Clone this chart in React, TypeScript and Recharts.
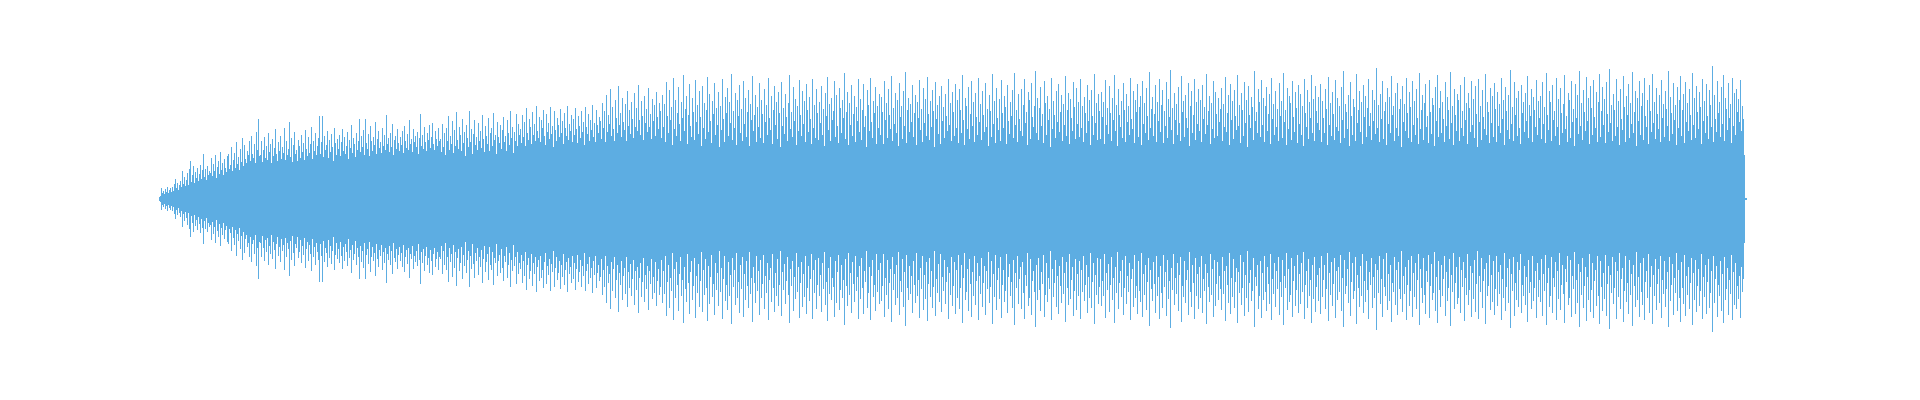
import { BarChart, Bar, XAxis, YAxis } from "recharts";

// peak amplitude of each 1px column (symmetric around zero)
const ampIntro = [
  2, 3, 11, 6, 8, 5, 10, 7, 12, 6, 9, 11, 7, 12, 8, 15, 20, 11, 16, 9,
  14, 18, 12, 28, 15, 22, 13, 19, 26, 14, 30, 38, 17, 24, 33, 16, 27, 21, 31, 18,
  25, 34, 20, 29, 45, 22, 30, 19, 33, 24, 28,
];

const ampRise = [
  26, 41, 23, 35, 28, 44, 21, 32, 38, 25, 47, 29, 36, 24, 40, 31, 27, 43, 45, 30,
  34, 52, 28, 39, 46, 31, 57, 35, 42, 29, 50, 37, 61, 33, 54, 40, 36, 48, 44, 58,
  38, 63, 45, 41, 55, 36, 67, 49, 80, 43,
];

const ampShelf = [
  44, 58, 37, 49, 62, 41, 53, 39, 66, 47, 55, 36, 60, 43, 51, 70, 45, 38, 57, 48,
  63, 40, 52, 46, 71, 39, 58, 44, 50, 77, 42, 61, 37, 54, 67, 45, 49, 38, 59, 53,
  41, 64, 47, 56, 39, 69, 50, 43, 62, 46, 55, 72, 40, 58, 48, 66, 44, 53, 61, 83,
  45, 57, 83, 42, 63, 49, 54, 68, 41, 59, 47, 65, 52, 38, 71, 56, 44, 60, 50, 64,
  43, 57, 70, 48, 62, 45, 53, 67, 40, 59, 51, 74, 46, 61, 55, 42, 66, 49, 58, 80,
  47, 63, 52, 69, 44, 80, 56, 50, 65, 43, 73, 58, 48, 62, 54, 77, 45, 60, 68, 51,
  57, 46, 71, 53, 64, 49, 84, 55, 61, 47, 66, 52, 75, 44, 59, 63, 50, 70, 56, 48,
  62, 54, 68, 46, 73, 58, 51, 65, 49, 79, 55, 60, 47, 70, 57, 63, 52, 67, 45, 61,
  85, 53, 64, 50, 72, 57, 48, 66, 59, 74, 51, 62, 76, 55, 49, 68, 60, 53, 71, 58,
];

const ampClimbA = [
  60, 47, 75, 52, 66, 44, 71, 58, 83, 49, 63, 55, 78, 46, 69, 53, 87, 59, 50, 72,
  64, 48, 80, 56, 67, 43, 74, 61, 52, 88, 57, 70, 45, 65, 79, 54, 62, 49, 76, 58,
  68, 51, 84, 60, 47, 73, 63, 55, 81, 48, 66, 71, 53, 86, 59, 64, 45, 77, 62, 56,
  74, 50, 69, 82, 57, 63, 48, 79, 66, 54, 88, 61, 72, 46, 67, 58, 85, 53, 75, 64,
];

const ampClimbB = [
  70, 56, 84, 62, 77, 53, 91, 66, 59, 80, 72, 55, 87, 64, 75, 58, 93, 68, 61, 82,
  57, 79, 71, 89, 63, 54, 85, 67, 76, 60, 92, 65, 73, 52, 88, 69, 58, 81, 74, 62,
  90, 66, 78, 55, 86, 71, 63, 93, 59, 75, 68, 84, 57, 80, 64, 91, 70, 56, 83, 73,
  61, 88, 67, 77, 54, 92, 72, 65, 85, 58, 79, 69, 94, 62, 76, 57, 89, 74, 66, 82,
];

const ampClimbC = [
  78, 60, 96, 71, 88, 57, 104, 67, 84, 75, 110, 63, 92, 70, 58, 99, 81, 66, 113, 74,
  86, 62, 101, 77, 69, 95, 58, 108, 73, 89, 65, 97, 80, 61, 106, 72, 91, 68, 114, 79,
  64, 98, 83, 59, 103, 76, 90, 67, 111, 72, 85, 60, 100, 78, 94, 63, 107, 82, 70, 96,
];

const ampBody1 = [
  88, 61, 104, 72, 95, 57, 117, 83, 66, 109, 79, 92, 54, 121, 70, 99, 63, 86, 112, 75,
  58, 97, 81, 124, 68, 90, 103, 55, 84, 115, 73, 62, 101, 87, 59, 119, 77, 94, 65, 108,
  82, 53, 113, 71, 96, 60, 89, 122, 67, 105, 78, 56, 98, 85, 116, 64, 91, 74, 107, 52,
  93, 69, 120, 80, 57, 102, 86, 111, 63, 97, 76, 125, 59, 88, 71, 106, 54, 99, 83, 114,
  66, 90, 58, 118, 75, 101, 62, 87, 109, 53, 95, 79, 123, 68, 84, 104, 57, 92, 72, 116,
  61, 99, 85, 56, 110, 77, 94, 64, 121, 81, 69, 103, 55, 89, 113, 74, 97, 60, 107, 86,
  52, 117, 73, 91, 65, 105, 82, 58, 96, 124, 70, 87, 62, 112, 78, 100, 54, 93, 68, 119,
  84, 63, 108, 75, 98, 57, 115, 89, 67, 102, 80, 55, 120, 71, 94, 61, 110, 86, 59, 97,
  76, 113, 64, 90, 53, 106, 83, 122, 69, 95, 58, 101, 79, 88, 118, 62, 104, 73, 56, 111,
  91, 66, 99, 81, 126, 60, 87, 107, 54, 96, 74, 114, 63, 85, 103, 57, 92, 78, 120, 67,
  100, 59, 89, 115, 72, 83, 52, 109, 94, 68, 121, 77, 61, 98, 86, 112, 55, 93, 71, 105,
];

const ampBody2 = [
  64, 102, 87, 55, 118, 79, 96, 61, 110, 84, 70, 123, 58, 91, 75, 106, 66, 99, 53, 116,
  82, 93, 60, 108, 73, 127, 56, 89, 101, 67, 95, 77, 114, 62, 86, 104, 54, 97, 81, 119,
  69, 90, 57, 111, 76, 100, 63, 122, 85, 59, 98, 72, 109, 88, 52, 117, 80, 94, 65, 103,
  55, 113, 78, 92, 61, 105, 83, 68, 120, 74, 96, 58, 107, 87, 63, 115, 71, 99, 56, 110,
  89, 66, 124, 79, 54, 101, 93, 70, 112, 60, 85, 118, 73, 97, 57, 106, 82, 64, 121, 77,
  95, 59, 108, 84, 67, 116, 72, 90, 53, 104, 88, 62, 125, 75, 98, 56, 111, 81, 69, 100,
  58, 119, 86, 71, 103, 92, 55, 114, 78, 65, 97, 83, 109, 61, 126, 74, 89, 57, 105, 80,
  68, 110, 63, 94, 120, 76, 87, 54, 107, 99, 60, 116, 82, 72, 93, 128, 66, 101, 59, 91,
  112, 73, 85, 56, 118, 96, 64, 103, 79, 90, 52, 121, 70, 98, 84, 61, 108, 77, 115, 67,
  87, 104, 58, 95, 74, 123, 63, 89, 106, 55, 100, 81, 68, 117, 92, 60, 111, 75, 97, 62,
  120, 71, 93, 57, 102, 86, 66, 114, 78, 99, 54, 109, 83, 64, 125, 76, 96, 59, 105, 88,
];

const ampBody3 = [
  60, 107, 82, 97, 55, 119, 74, 91, 65, 113, 86, 58, 101, 79, 124, 68, 94, 53, 110, 84,
  72, 98, 61, 116, 89, 57, 105, 77, 93, 64, 121, 80, 70, 108, 56, 99, 87, 115, 62, 92,
  103, 54, 118, 75, 96, 66, 111, 83, 59, 127, 71, 90, 102, 63, 85, 114, 57, 97, 78, 120,
  67, 94, 109, 56, 88, 73, 117, 61, 100, 82, 129, 69, 91, 55, 106, 79, 95, 64, 112, 76,
  58, 123, 87, 98, 62, 104, 81, 71, 116, 53, 93, 108, 66, 84, 120, 59, 97, 75, 110, 68,
  99, 57, 114, 80, 92, 65, 125, 74, 88, 103, 55, 96, 70, 118, 61, 107, 85, 63, 101, 77,
  90, 111, 58, 95, 72, 122, 67, 86, 104, 54, 115, 79, 98, 60, 109, 83, 69, 124, 73, 94,
  56, 106, 89, 63, 117, 76, 99, 52, 113, 84, 71, 102, 92, 59, 128, 78, 87, 66, 110, 97,
  62, 119, 74, 101, 57, 93, 112, 68, 85, 105, 55, 121, 80, 95, 64, 108, 72, 90, 58, 116,
  83, 98, 61, 126, 77, 89, 54, 111, 70, 103, 96, 59, 118, 82, 67, 107, 91, 56, 114, 75,
  105, 64, 93, 53, 120, 86, 72, 109, 60, 97, 81, 124, 66, 100, 58, 113, 88, 76, 102, 69,
];

const ampBody4 = [
  115, 57, 98, 81, 66, 110, 90, 54, 122, 74, 96, 63, 107, 85, 59, 119, 72, 101, 68, 93,
  56, 112, 79, 128, 61, 95, 87, 70, 104, 53, 117, 83, 64, 100, 92, 58, 125, 76, 89, 108,
  67, 97, 55, 114, 82, 103, 62, 91, 120, 73, 86, 59, 109, 78, 99, 65, 131, 71, 94, 57,
  105, 80, 118, 60, 88, 97, 54, 111, 75, 102, 66, 123, 84, 93, 58, 106, 71, 116, 63, 90,
  100, 52, 113, 77, 95, 68, 121, 86, 61, 107, 92, 57, 118, 74, 98, 64, 110, 81, 55, 126,
  70, 89, 104, 59, 96, 115, 72, 83, 56, 119, 87, 65, 101, 94, 53, 112, 78, 124, 62, 91,
  108, 66, 97, 80, 57, 117, 73, 102, 89, 60, 127, 76, 93, 54, 110, 84, 68, 105, 99, 58,
  114, 71, 88, 63, 122, 79, 96, 55, 106, 91, 67, 118, 74, 100, 61, 113, 85, 52, 120, 77,
  93, 59, 109, 82, 70, 125, 64, 97, 87, 56, 111, 76, 103, 62, 116, 90, 57, 107, 73, 95,
  66, 121, 80, 99, 54, 112, 88, 69, 104, 60, 129, 75, 92, 58, 117, 84, 101, 63, 108, 71,
  55, 114, 86, 97, 67, 106, 78, 123, 61, 94, 83, 110, 57, 102, 89, 72, 119, 64, 98, 81,
];

const ampBody5 = [
  103, 60, 117, 75, 92, 56, 126, 84, 69, 108, 97, 58, 114, 79, 88, 63, 121, 72, 100, 54,
  111, 86, 66, 95, 124, 70, 83, 57, 106, 99, 61, 118, 77, 90, 53, 115, 81, 104, 65, 128,
  73, 96, 59, 109, 87, 68, 122, 78, 101, 55, 113, 91, 64, 119, 82, 71, 107, 57, 97, 125,
  62, 88, 112, 74, 100, 56, 117, 85, 67, 130, 76, 94, 58, 105, 89, 63, 120, 72, 98, 54,
  110, 80, 69, 123, 92, 57, 103, 84, 115, 61, 96, 75, 127, 66, 87, 108, 53, 101, 78, 118,
  64, 93, 106, 59, 121, 83, 72, 99, 55, 114, 88, 67, 125, 76, 97, 60, 111, 85, 70, 104,
  57, 119, 81, 95, 62, 108, 90, 73, 128, 58, 102, 86, 65, 116, 79, 94, 54, 112, 71, 99,
  123, 63, 89, 105, 56, 117, 77, 96, 68, 110, 84, 59, 126, 74, 101, 61, 113, 87, 70, 107,
  92, 55, 120, 78, 98, 66, 115, 83, 60, 109, 94, 72, 133, 57, 104, 80, 67, 118, 86, 97,
  62, 112, 75, 124, 58, 101, 90, 69, 116, 81, 95, 56, 121, 73, 106, 64, 110, 87, 100, 77,
  119, 68, 93, 80, 44,
];

const ampTail = [1, 1];

const COLOR = "#5dade2";

const amplitudes = [
  ...ampIntro,
  ...ampRise,
  ...ampShelf,
  ...ampClimbA,
  ...ampClimbB,
  ...ampClimbC,
  ...ampBody1,
  ...ampBody2,
  ...ampBody3,
  ...ampBody4,
  ...ampBody5,
  ...ampTail,
];

// each column is a range bar from -a to +a
const chartData = amplitudes.map((a, i) => ({ i, range: [-a, a] }));

const LEFT = 159;

const App = () => {
  return (
    <div
      style={{
        position: "absolute",
        left: 0,
        top: 0,
        background: "#fff",
        shapeRendering: "crispEdges",
      }}
    >
      <BarChart
        width={1920}
        height={400}
        data={chartData}
        margin={{
          top: 49,
          bottom: 51,
          left: LEFT,
          right: 1920 - LEFT - chartData.length,
        }}
        barCategoryGap={0}
        barGap={0}
      >
        <XAxis dataKey="i" hide />
        <YAxis type="number" domain={[-150, 150]} hide />
        <Bar
          dataKey="range"
          fill={COLOR}
          barSize={1}
          isAnimationActive={false}
        />
      </BarChart>
    </div>
  );
};

export default App;
